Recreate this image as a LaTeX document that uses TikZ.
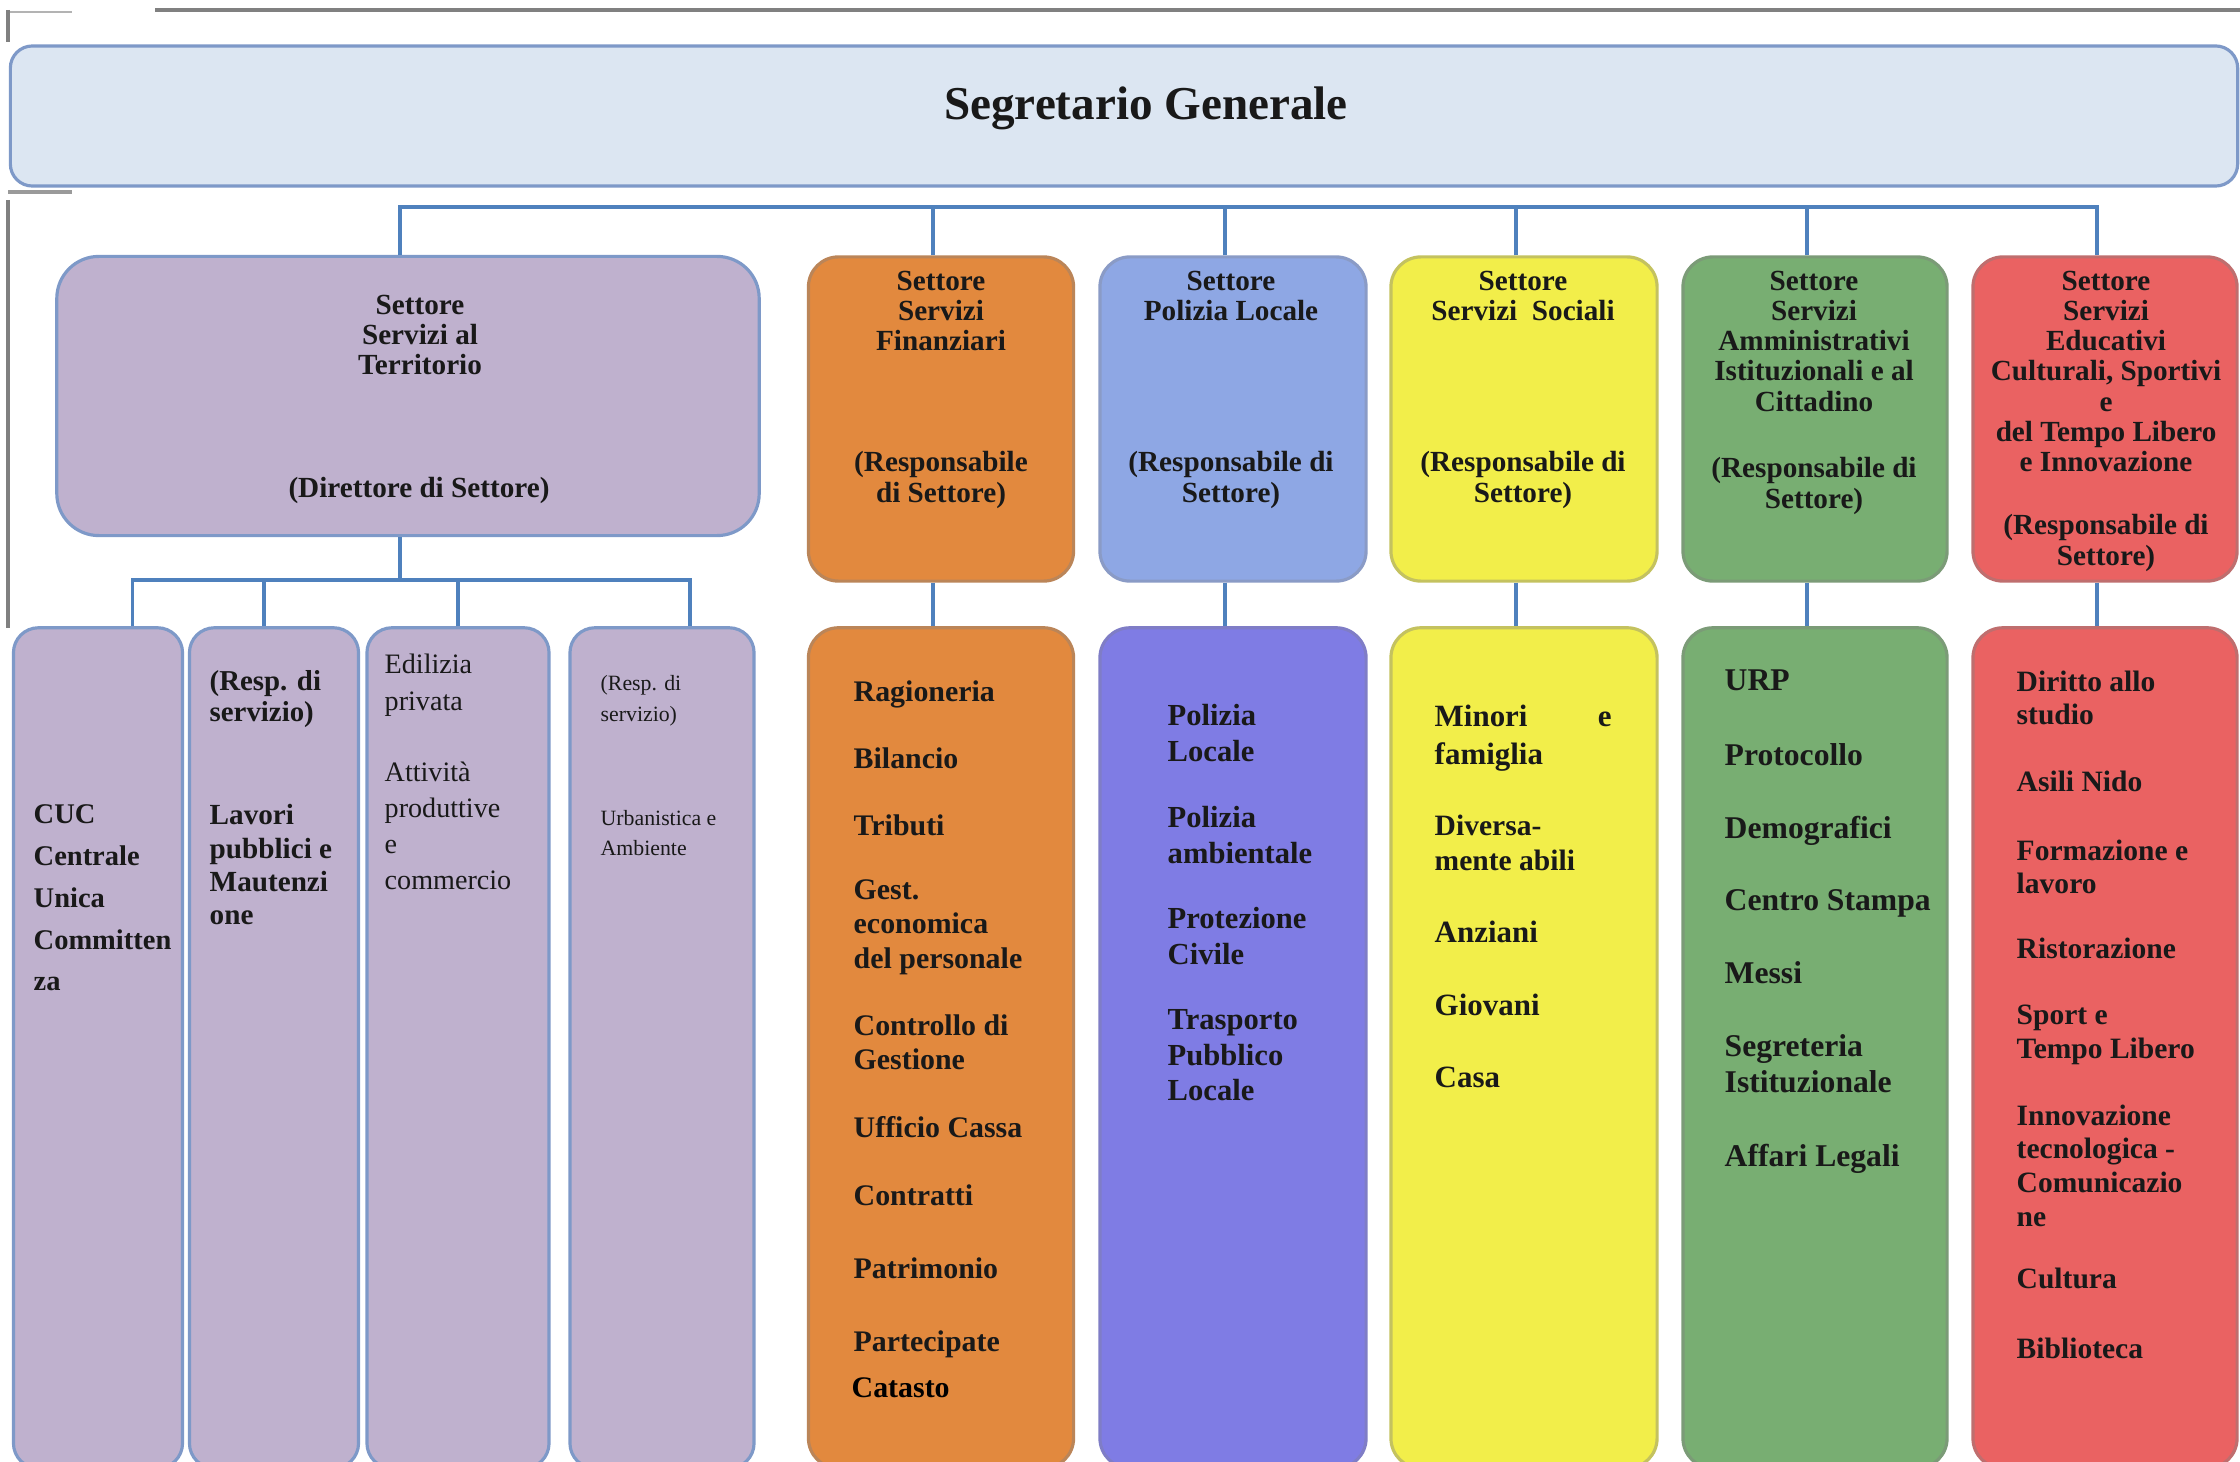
\documentclass[tikz,border=0pt]{standalone}
\usepackage{fontspec}
\setmainfont{Liberation Serif}
\usetikzlibrary{positioning,calc}

\definecolor{segblue}{RGB}{220,230,242}
\definecolor{lineblue}{RGB}{79,129,189}
\definecolor{edgeblue}{RGB}{126,153,200}
\definecolor{terrpurple}{RGB}{191,177,206}
\definecolor{finorange}{RGB}{226,137,62}
\definecolor{polblue}{RGB}{142,167,228}
\definecolor{poldark}{RGB}{127,124,228}
\definecolor{socyellow}{RGB}{242,238,74}
\definecolor{ammgreen}{RGB}{120,174,114}
\definecolor{edured}{RGB}{234,98,98}
\definecolor{framegray}{RGB}{128,128,128}

\tikzset{
  box/.style={rectangle, rounded corners=0.3cm, draw=edgeblue, line width=0.9pt, inner sep=0pt},
  head/.style={font=\bfseries\fontsize{8.3}{8.6}\selectfont, align=center, inner sep=0pt, anchor=north, text=black!90},
  item/.style={font=\bfseries\fontsize{8.5}{9.8}\selectfont, align=left, inner sep=0pt, anchor=north west, text=black!90},
  plain/.style={font=\fontsize{8}{10.4}\selectfont, align=left, inner sep=0pt, anchor=north west, text=black!90},
  conn/.style={lineblue, line width=1.1pt},
}

\begin{document}
\begin{tikzpicture}[x=0.01cm, y=-0.01cm]
        \clip (0,0) rectangle (2240,1461);
        \fill[white] (0,0) rectangle (2240,1461);

        % scanned frame lines
        \draw[framegray, line width=1.1pt] (155,10) -- (2240,10);
        \draw[framegray!60, line width=0.8pt] (8,12) -- (72,12);
        \draw[framegray, line width=0.9pt] (8,10) -- (8,42);
        \draw[framegray!80, line width=0.9pt] (8,192) -- (72,192);
        \draw[framegray, line width=0.9pt] (8,200) -- (8,628);

        % top box
        \node[box, fill=segblue, rounded corners=0.22cm, minimum width=22.26cm, minimum height=1.4cm] (seg) at (1124,116) {};
        \node[font=\bfseries\fontsize{13.4}{15}\selectfont, inner sep=0pt, text=black!90] (seg-t) at (1146,108) {Segretario Generale};

        % sector boxes
        \node[box, fill=terrpurple, rounded corners=0.42cm, minimum width=7.02cm, minimum height=2.79cm] (terr) at (408,396) {};
        \node[box, fill=finorange, draw=finorange!60!gray, minimum width=2.65cm, minimum height=3.24cm] (fin) at (941,419) {};
        \node[box, fill=polblue, draw=polblue!70!gray, minimum width=2.66cm, minimum height=3.24cm] (pol) at (1233,419) {};
        \node[box, fill=socyellow, draw=socyellow!60!gray, minimum width=2.66cm, minimum height=3.24cm] (soc) at (1524,419) {};
        \node[box, fill=ammgreen, draw=ammgreen!60!gray, minimum width=2.64cm, minimum height=3.24cm] (amm) at (1815,419) {};
        \node[box, fill=edured, draw=edured!60!gray, minimum width=2.64cm, minimum height=3.24cm] (edu) at (2105,419) {};

        % office boxes
        \node[box, fill=terrpurple, rounded corners=0.25cm, minimum width=1.69cm, minimum height=8.4cm] (cuc) at (98,1048) {};
        \node[box, fill=terrpurple, rounded corners=0.25cm, minimum width=1.69cm, minimum height=8.4cm] (lav) at (274,1048) {};
        \node[box, fill=terrpurple, rounded corners=0.25cm, minimum width=1.82cm, minimum height=8.4cm] (edi) at (458,1048) {};
        \node[box, fill=terrpurple, rounded corners=0.25cm, minimum width=1.84cm, minimum height=8.4cm] (urb) at (662,1048) {};
        \node[box, fill=finorange, draw=finorange!60!gray, minimum width=2.65cm, minimum height=8.4cm] (fin-list) at (941,1048) {};
        \node[box, fill=poldark, draw=poldark!70!gray, minimum width=2.66cm, minimum height=8.4cm] (pol-list) at (1233,1048) {};
        \node[box, fill=socyellow, draw=socyellow!60!gray, minimum width=2.66cm, minimum height=8.4cm] (soc-list) at (1524,1048) {};
        \node[box, fill=ammgreen, draw=ammgreen!60!gray, minimum width=2.64cm, minimum height=8.4cm] (amm-list) at (1815,1048) {};
        \node[box, fill=edured, draw=edured!60!gray, minimum width=2.64cm, minimum height=8.4cm] (edu-list) at (2105,1048) {};

        % connectors (drops sit a little left of the box centres)
        \coordinate (bus) at (0,207);
        \coordinate (bus2) at (0,580);
        \foreach \n in {terr,fin,pol,soc,amm,edu} {
            \coordinate (\n-in) at ([xshift=-0.08cm]\n.north);
            \coordinate (\n-out) at ([xshift=-0.08cm]\n.south);
        }
        \draw[conn] (terr-in) |- (edu-in |- bus) -- (edu-in);
        \foreach \n in {fin,pol,soc,amm}
            \draw[conn] (\n-in) -- (\n-in |- bus);
        \foreach \n in {fin,pol,soc,amm,edu}
            \draw[conn] (\n-out) -- (\n-out |- \n-list.north);
        \coordinate (cuc-in) at ([xshift=0.345cm]cuc.north);
        \coordinate (lav-in) at ([xshift=-0.1cm]lav.north);
        \coordinate (urb-in) at ([xshift=0.28cm]urb.north);
        \draw[conn] (terr-out) -- (terr-out |- bus2);
        \draw[conn] (cuc-in) |- (urb-in |- bus2) -- (urb-in);
        \draw[conn] (lav-in) -- (lav-in |- bus2);
        \draw[conn] (edi.north) -- (edi.north |- bus2);

        % sector titles
        \node[head] (terr-t) at (420,294) {Settore\\Servizi al\\Territorio};
        \node[head] (terr-r) at (419,477) {(Direttore di Settore)};
        \node[head] (fin-t) at (941,270) {Settore\\Servizi\\Finanziari};
        \node[head] (fin-r) at (941,451) {(Responsabile\\di Settore)};
        \node[head] (pol-t) at (1231,270) {Settore\\Polizia Locale};
        \node[head] (pol-r) at (1231,451) {(Responsabile di\\Settore)};
        \node[head] (soc-t) at (1523,270) {Settore\\Servizi~~Sociali};
        \node[head] (soc-r) at (1523,451) {(Responsabile di\\Settore)};
        \node[head] (amm-t) at (1814,270) {Settore\\Servizi\\Amministrativi\\Istituzionali e al\\Cittadino};
        \node[head] (amm-r) at (1814,457) {(Responsabile di\\Settore)};
        \node[head] (edu-t) at (2106,270) {Settore\\Servizi\\Educativi\\Culturali, Sportivi\\e\\del Tempo Libero\\e Innovazione};
        \node[head] (edu-r) at (2106,514) {(Responsabile di\\Settore)};

        % Servizi al Territorio offices
        \node[item, font=\bfseries\fontsize{8.1}{11.9}\selectfont] (cuc-a) at (33,804) {CUC\\Centrale\\Unica\\Committen\\za};
        \node[item, font=\bfseries\fontsize{8.2}{8.8}\selectfont] (lav-a) at (209,670) {(Resp. di\\servizio)};
        \node[item, font=\bfseries\fontsize{8.3}{9.4}\selectfont] (lav-b) at (209,804) {Lavori\\pubblici e\\Mautenzi\\one};
        \node[plain, font=\fontsize{8}{10.5}\selectfont] (edi-a) at (384,653) {Edilizia\\privata};
        \node[plain, font=\fontsize{8}{10.3}\selectfont] (edi-b) at (384,761) {Attività\\produttive\\e\\commercio};
        \node[plain, font=\fontsize{6.2}{8.8}\selectfont] (urb-a) at (600,675) {(Resp. di\\servizio)};
        \node[plain, font=\fontsize{6.2}{8.5}\selectfont] (urb-b) at (600,810) {Urbanistica e\\Ambiente};

        % Servizi Finanziari offices
        \node[item] (fin-a) at (853,680) {Ragioneria};
        \node[item] (fin-b) at (853,747) {Bilancio};
        \node[item] (fin-c) at (853,814) {Tributi};
        \node[item] (fin-d) at (853,879) {Gest.\\economica\\del personale};
        \node[item] (fin-e) at (853,1014) {Controllo di\\Gestione};
        \node[item] (fin-f) at (853,1116) {Ufficio Cassa};
        \node[item] (fin-g) at (853,1184) {Contratti};
        \node[item] (fin-h) at (853,1257) {Patrimonio};
        \node[item] (fin-i) at (853,1330) {Partecipate};
        \node[item, text=black] (fin-j) at (851,1377) {Catasto};

        % Polizia Locale offices
        \node[item, font=\bfseries\fontsize{8.7}{10.1}\selectfont] (pol-a) at (1167,704) {Polizia\\Locale};
        \node[item, font=\bfseries\fontsize{8.7}{10.1}\selectfont] (pol-b) at (1167,806) {Polizia\\ambientale};
        \node[item, font=\bfseries\fontsize{8.7}{10.1}\selectfont] (pol-c) at (1167,907) {Protezione\\Civile};
        \node[item, font=\bfseries\fontsize{8.7}{10.1}\selectfont] (pol-d) at (1167,1009) {Trasporto\\Pubblico\\Locale};

        % Servizi Sociali offices
        \node[item, font=\bfseries\fontsize{8.8}{11}\selectfont] (soc-a) at (1434,704) {Minori\hspace{20pt}e\\famiglia};
        \node[item, font=\bfseries\fontsize{8.4}{10}\selectfont] (soc-b) at (1434,814) {Diversa-\\mente abili};
        \node[item, font=\bfseries\fontsize{8.8}{10}\selectfont] (soc-c) at (1434,920) {Anziani};
        \node[item, font=\bfseries\fontsize{8.8}{10}\selectfont] (soc-d) at (1434,993) {Giovani};
        \node[item, font=\bfseries\fontsize{8.8}{10}\selectfont] (soc-e) at (1434,1066) {Casa};

        % Servizi Amministrativi offices
        \node[item, font=\bfseries\fontsize{9}{10.2}\selectfont] (amm-a) at (1724,669) {URP};
        \node[item, font=\bfseries\fontsize{9}{10.2}\selectfont] (amm-b) at (1724,743) {Protocollo};
        \node[item, font=\bfseries\fontsize{9}{10.2}\selectfont] (amm-c) at (1724,816) {Demografici};
        \node[item, font=\bfseries\fontsize{9}{10.2}\selectfont] (amm-d) at (1724,889) {Centro Stampa};
        \node[item, font=\bfseries\fontsize{9}{10.2}\selectfont] (amm-e) at (1724,961) {Messi};
        \node[item, font=\bfseries\fontsize{9}{10.2}\selectfont] (amm-f) at (1724,1034) {Segreteria\\Istituzionale};
        \node[item, font=\bfseries\fontsize{9}{10.2}\selectfont] (amm-g) at (1724,1143) {Affari Legali};

        % Servizi Educativi offices
        \node[item, font=\bfseries\fontsize{8.4}{9.6}\selectfont] (edu-a) at (2016,670) {Diritto allo\\studio};
        \node[item, font=\bfseries\fontsize{8.4}{9.6}\selectfont] (edu-b) at (2016,770) {Asili Nido};
        \node[item, font=\bfseries\fontsize{8.4}{9.6}\selectfont] (edu-c) at (2016,839) {Formazione e\\lavoro};
        \node[item, font=\bfseries\fontsize{8.4}{9.6}\selectfont] (edu-d) at (2016,937) {Ristorazione};
        \node[item, font=\bfseries\fontsize{8.4}{9.6}\selectfont] (edu-e) at (2016,1004) {Sport e\\Tempo Libero};
        \node[item, font=\bfseries\fontsize{8.4}{9.6}\selectfont] (edu-f) at (2016,1104) {Innovazione\\tecnologica -\\Comunicazio\\ne};
        \node[item, font=\bfseries\fontsize{8.4}{9.6}\selectfont] (edu-g) at (2016,1267) {Cultura};
        \node[item, font=\bfseries\fontsize{8.4}{9.6}\selectfont] (edu-h) at (2016,1337) {Biblioteca};
\end{tikzpicture}
\end{document}
